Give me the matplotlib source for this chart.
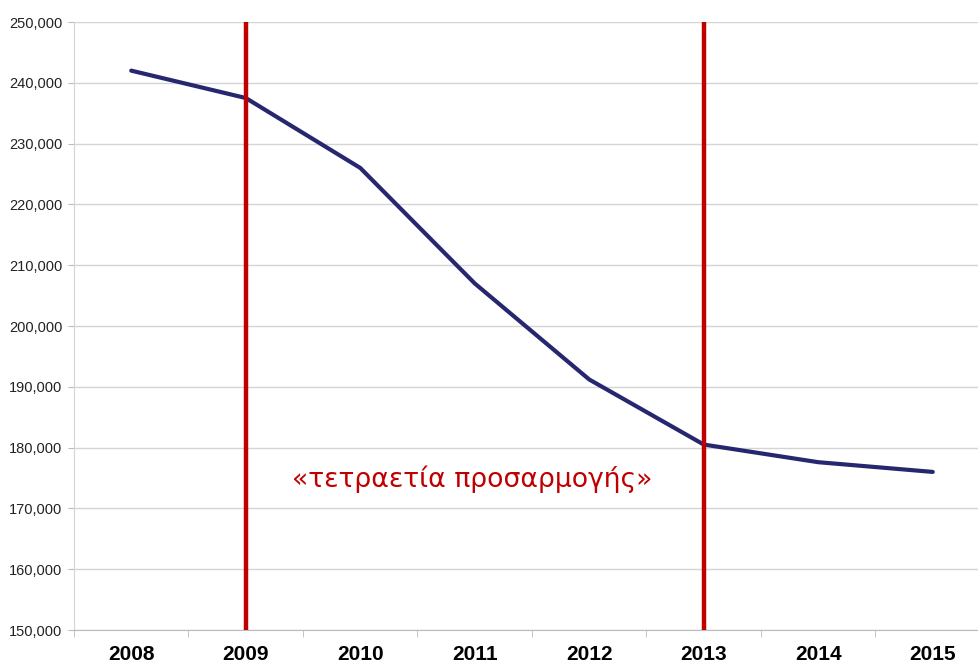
import matplotlib
matplotlib.use("Agg")
import matplotlib.pyplot as plt
from matplotlib.ticker import FuncFormatter, MultipleLocator, FixedLocator

years = ["2008", "2009", "2010", "2011", "2012", "2013", "2014", "2015"]
values = [242000, 237500, 226000, 207000, 191200, 180500, 177600, 176000]
marker_years = ["2009", "2013"]
label_text = "«τετραετία προσαρμογής»"

W, H = 979, 663
fig = plt.figure(figsize=(W / 100, H / 100), dpi=100)
left, right, top, bottom = 74, 990, 22, 630
ax = fig.add_axes([left / W, 1 - bottom / H, (right - left) / W, (bottom - top) / H])

x = list(range(len(years)))
ax.plot(x, values, color="#27276F", lw=3.0, solid_capstyle="round", zorder=3)

for my in marker_years:
    i = years.index(my)
    ax.axvline(i, color="#C00000", lw=3.2, zorder=4)

ax.set_xlim(-0.5, len(years) - 0.5)
ax.set_ylim(150000, 250000)
ax.yaxis.set_major_locator(MultipleLocator(10000))
ax.yaxis.set_major_formatter(FuncFormatter(lambda v, p: f"{int(v):,}"))
ax.set_xticks(x)
ax.set_xticklabels(years, fontsize=15, fontweight="bold", family="Liberation Sans")
ax.xaxis.set_minor_locator(FixedLocator([i - 0.5 for i in range(len(years) + 1)]))
ax.tick_params(axis="x", which="major", length=0, pad=10.5)
ax.tick_params(axis="x", which="minor", length=5, color="#BBBBBB")
ax.tick_params(axis="y", length=4, color="#BBBBBB", labelsize=10.5, pad=4.5)
for lbl in ax.get_yticklabels():
    lbl.set_family("Liberation Sans")
    lbl.set_color("#222222")

ax.grid(axis="y", color="#D4D4D4", lw=1)
ax.set_axisbelow(True)
for s in ["top", "right"]:
    ax.spines[s].set_visible(False)
ax.spines["left"].set_color("#D4D4D4")
ax.spines["bottom"].set_color("#BBBBBB")

ax.text(2.98, 174800, label_text, color="#C00000", fontsize=19.2,
        family="DejaVu Sans", ha="center", va="center")

fig.savefig("out.png", dpi=100)
